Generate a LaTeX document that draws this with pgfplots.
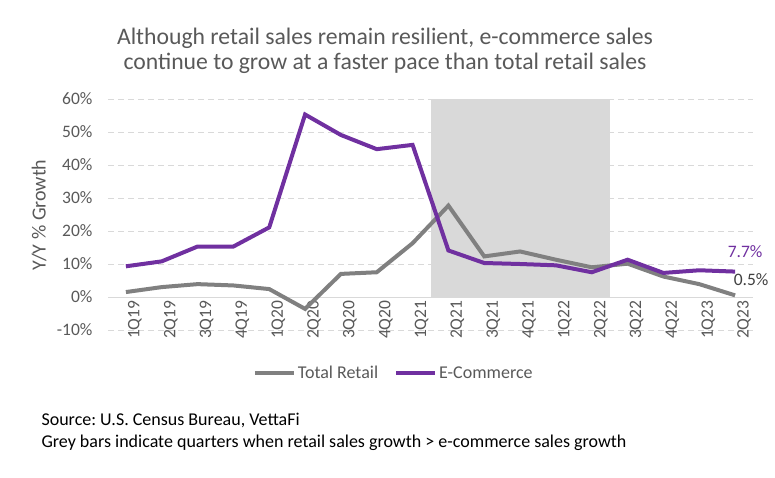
\documentclass[border=0pt]{standalone}
\usepackage{pgfplots}
\pgfplotsset{compat=1.18}
\usepackage{fontspec}
\setmainfont{Carlito}
\frenchspacing
\definecolor{ecom}{HTML}{7030A0}
\definecolor{retail}{HTML}{808080}
\definecolor{shadec}{HTML}{D9D9D9}
\definecolor{txt}{HTML}{595959}
\definecolor{gridc}{HTML}{D9D9D9}
\begin{document}
\begin{tikzpicture}
\path[use as bounding box] (0pt,0pt) rectangle (775pt,477pt);
\node[text=txt, font=\fontsize{23.7}{24.5}\selectfont, align=center] at (385pt,426pt)
  {Although retail sales remain resilient, e-commerce sales\\continue to grow at a faster pace than total retail sales};
\node[text=txt, font=\fontsize{20}{22}\selectfont, rotate=90] at (39pt,262pt) {Y/Y \% Growth};
\node[anchor=west, font=\fontsize{18}{20}\selectfont] at (38pt,57pt) {Source: U.S. Census Bureau, VettaFi};
\node[anchor=west, font=\fontsize{18}{20}\selectfont] at (38pt,34pt) {Grey bars indicate quarters when retail sales growth > e-commerce sales growth};
\begin{axis}[
  at={(108pt,147pt)}, anchor=south west, scale only axis,
  width=645pt, height=231pt,
  xmin=-0.5, xmax=17.5, ymin=-10, ymax=60,
  axis x line=middle, axis y line=left,
  x axis line style={-, draw=gridc, line width=0.8pt},
  y axis line style={draw=none},
  hide obscured x ticks=false, hide obscured y ticks=false,
  xtick={0,...,17},
  xticklabels={1Q19,2Q19,3Q19,4Q19,1Q20,2Q20,3Q20,4Q20,1Q21,2Q21,3Q21,4Q21,1Q22,2Q22,3Q22,4Q22,1Q23,2Q23},
  ytick={-10,0,10,20,30,40,50,60},
  yticklabels={-10\%,0\%,10\%,20\%,30\%,40\%,50\%,60\%},
  major tick length=0pt,
  tick style={draw=none},
  xticklabel style={rotate=90, anchor=east, font=\fontsize{17.5}{19}\selectfont, text=txt, yshift=-9pt},
  yticklabel style={font=\fontsize{17.5}{19}\selectfont, text=txt, xshift=-12pt},
  ymajorgrids,
  grid style={draw=gridc, line width=0.8pt, dash pattern=on 6pt off 4pt},
  legend style={at={(0.443,-0.186)}, anchor=center, draw=none, fill=none,
    legend columns=2, font=\fontsize{18}{20}\selectfont, text=txt,
    /tikz/every even column/.append style={column sep=14pt}},
  legend image code/.code={\draw[#1] (0pt,0pt) -- (39pt,0pt);},
  clip=false,
]
\addplot[draw=none, fill=shadec, forget plot] coordinates {(8.5,0) (8.5,60) (13.5,60) (13.5,0)} -- cycle;
\addplot[retail, line width=4pt] coordinates {
(0,1.5) (1,3.0) (2,3.9) (3,3.5) (4,2.4) (5,-3.6) (6,7.0) (7,7.5) (8,16.3)
(9,27.7) (10,12.3) (11,13.8) (12,11.3) (13,9.0) (14,10.1) (15,6.2) (16,3.9) (17,0.5)};
\addlegendentry{Total Retail}
\addplot[ecom, line width=4pt] coordinates {
(0,9.3) (1,10.8) (2,15.3) (3,15.3) (4,21.1) (5,55.3) (6,49.1) (7,44.8) (8,46.1)
(9,14.1) (10,10.3) (11,10.0) (12,9.6) (13,7.5) (14,11.3) (15,7.3) (16,8.1) (17,7.7)};
\addlegendentry{E-Commerce}
\node[text=ecom, font=\fontsize{17.5}{19}\selectfont] at (axis cs:17,7.7) [xshift=10pt, yshift=20pt] {7.7\%};
\node[text=black!75, font=\fontsize{17.5}{19}\selectfont] at (axis cs:17,0.5) [xshift=16pt, yshift=16pt] {0.5\%};
\end{axis}
\end{tikzpicture}
\end{document}
